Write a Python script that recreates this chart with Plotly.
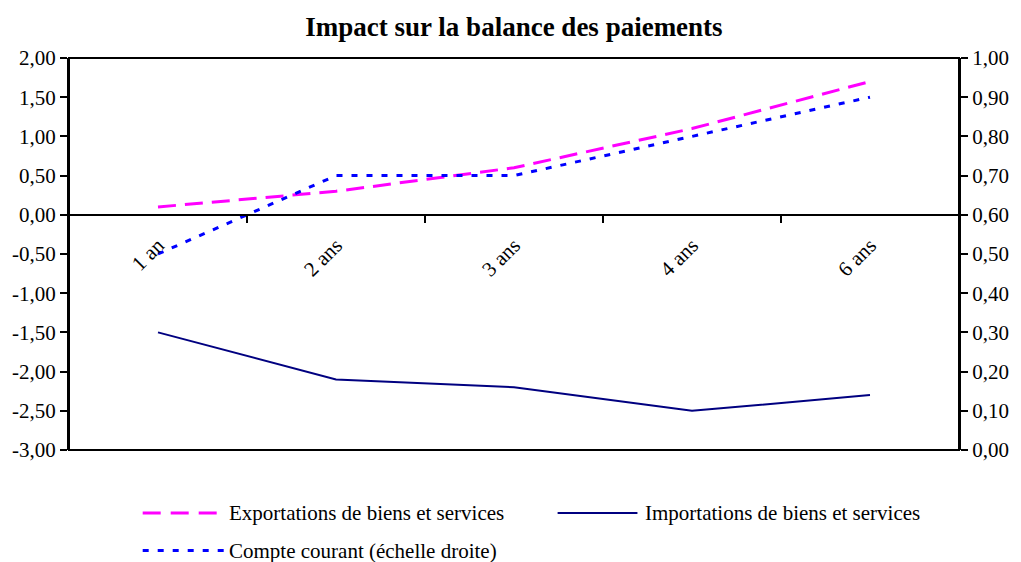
import plotly.graph_objects as go

categories = ["1 an", "2 ans", "3 ans", "4 ans", "6 ans"]
exportations = [0.10, 0.30, 0.60, 1.10, 1.70]
importations = [-1.50, -2.10, -2.20, -2.50, -2.30]
compte_courant = [0.50, 0.70, 0.70, 0.80, 0.90]

left_vals = [2.0, 1.5, 1.0, 0.5, 0.0, -0.5, -1.0, -1.5, -2.0, -2.5, -3.0]
left_text = ["2,00", "1,50", "1,00", "0,50", "0,00", "-0,50", "-1,00", "-1,50", "-2,00", "-2,50", "-3,00"]
right_vals = [0.0, 0.1, 0.2, 0.3, 0.4, 0.5, 0.6, 0.7, 0.8, 0.9, 1.0]
right_text = ["0,00", "0,10", "0,20", "0,30", "0,40", "0,50", "0,60", "0,70", "0,80", "0,90", "1,00"]

names = ["Exportations de biens et services",
         "Importations de biens et services",
         "Compte courant (échelle droite)"]

font_family = "Liberation Serif"
magenta = "#FF00FF"
navy = "#000080"
blue = "#0000FF"

fig = go.Figure()
fig.add_trace(go.Scatter(
    x=categories, y=exportations, name=names[0], mode="lines",
    line=dict(color=magenta, width=3, dash="18px,9px"),
    yaxis="y", showlegend=False
))
fig.add_trace(go.Scatter(
    x=categories, y=importations, name=names[1], mode="lines",
    line=dict(color=navy, width=2),
    yaxis="y", showlegend=False
))
fig.add_trace(go.Scatter(
    x=categories, y=compte_courant, name=names[2], mode="lines",
    line=dict(color=blue, width=3, dash="6px,9px"),
    yaxis="y2", showlegend=False
))

# hand-made legend below the plot (longer samples than plotly's own)
# (line x0, line x1, text x, y, colour, width, dash, label)
legend_items = [
    (0.0828, 0.1667, 0.1775, -0.1607, magenta, 3, "18px,10px", names[0]),
    (0.549, 0.6387, 0.6455, -0.1607, navy, 2, "solid", names[1]),
    (0.0828, 0.1779, 0.1775, -0.2566, blue, 3, "6px,9px", names[2]),
]
for x0, x1, xt, yy, col, w, dash, txt in legend_items:
    fig.add_shape(type="line", xref="paper", yref="paper",
                  x0=x0, x1=x1, y0=yy, y1=yy,
                  line=dict(color=col, width=w, dash=dash))
    fig.add_annotation(xref="paper", yref="paper", x=xt, y=yy,
                       text=txt, showarrow=False, xanchor="left", yanchor="middle",
                       font=dict(family=font_family, size=21, color="black"))

# frame around the plot area
fig.add_shape(type="rect", xref="paper", yref="paper", x0=0, x1=1, y0=0, y1=1,
              line=dict(color="black", width=2), layer="above")

fig.update_layout(
    width=1021, height=562,
    margin=dict(l=69, r=58, t=58, b=112),
    paper_bgcolor="white", plot_bgcolor="white",
    font=dict(family=font_family, size=21, color="black"),
    title=dict(text="Impact sur la balance des paiements",
               font=dict(family=font_family, size=27, color="black", weight="bold"),
               x=0.5, xref="paper", xanchor="center", y=0.952, yanchor="middle"),
    xaxis=dict(type="category", range=[-0.5, 4.5], anchor="free", position=0.6,
               showline=True, linecolor="black", linewidth=2,
               ticks="outside", tickson="boundaries", ticklen=7, tickwidth=2,
               tickcolor="black", tickangle=-45, ticklabelstandoff=9,
               showgrid=False, zeroline=False,
               tickfont=dict(family=font_family, size=21, color="black")),
    yaxis=dict(range=[-3, 2], tickvals=left_vals, ticktext=left_text,
               showline=True, linecolor="black", linewidth=2,
               ticks="outside", ticklen=7, tickwidth=2, tickcolor="black",
               showgrid=False, zeroline=False,
               tickfont=dict(family=font_family, size=21, color="black")),
    yaxis2=dict(range=[0, 1], tickvals=right_vals, ticktext=right_text,
                overlaying="y", side="right", anchor="x",
                showline=True, linecolor="black", linewidth=2,
                ticks="outside", ticklen=7, tickwidth=2, tickcolor="black",
                showgrid=False, zeroline=False,
                tickfont=dict(family=font_family, size=21, color="black")),
)

fig.write_html("out.html", config={"displayModeBar": False},
               post_script="document.body.style.margin='0';")
